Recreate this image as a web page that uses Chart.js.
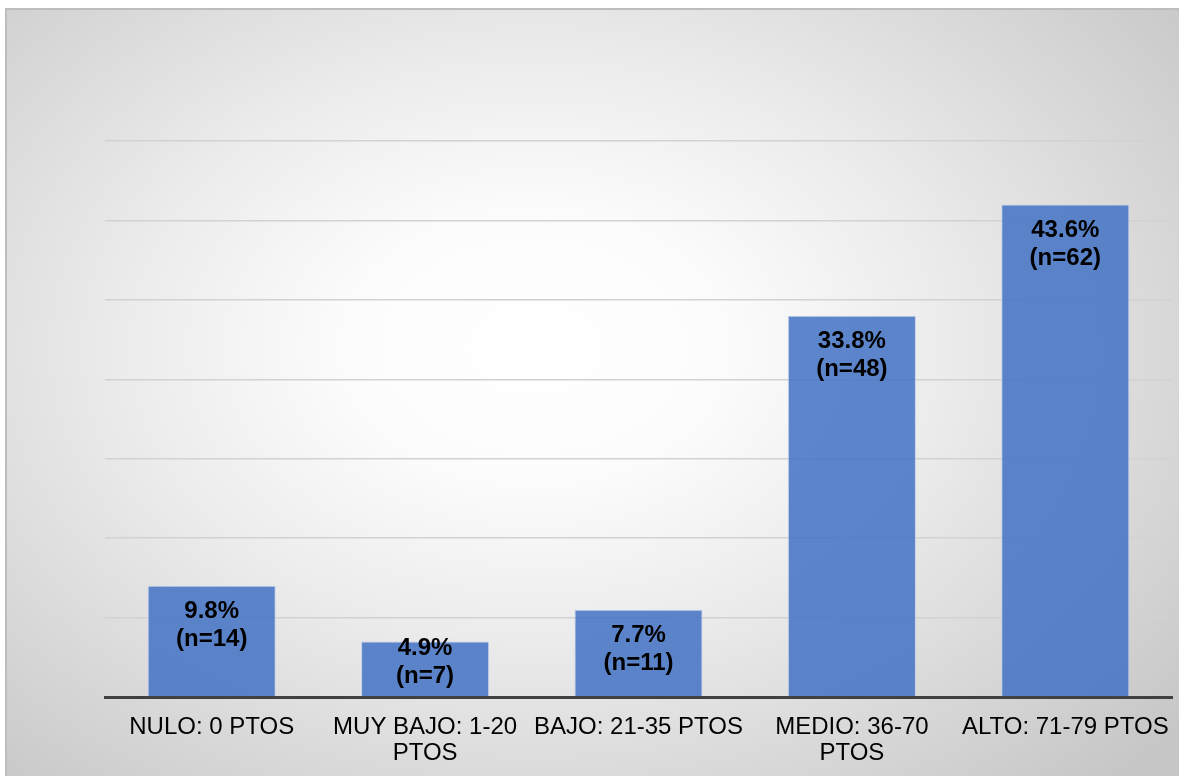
<!DOCTYPE html>
<html>
<head>
<meta charset="utf-8">
<script src="https://cdn.jsdelivr.net/npm/chart.js@4.4.0/dist/chart.umd.min.js"></script>
<style>
  html, body { margin: 0; padding: 0; background: #fff; }
  #wrap { position: relative; width: 1179px; height: 776px; overflow: hidden; }
  #bg {
    position: absolute; left: 5px; top: 8px; right: 0; bottom: 0;
    border-left: 2px solid #bdbdbd; border-top: 2px solid #bdbdbd;
    background: radial-gradient(ellipse 72% 78% at 45% 44%, #ffffff 0%, #fcfcfc 22%, #ececec 48%, #d6d6d6 78%, #c6c6c6 100%);
  }
  #c { position: absolute; left: 0; top: 0; }
</style>
</head>
<body>
<div id="wrap">
  <div id="bg"></div>
  <canvas id="c" width="1179" height="776"></canvas>
</div>
<script>
// categories (x axis, wrapped like the original)
const categories = [
  ['NULO: 0 PTOS'],
  ['MUY BAJO: 1-20', 'PTOS'],
  ['BAJO: 21-35 PTOS'],
  ['MEDIO: 36-70', 'PTOS'],
  ['ALTO: 71-79 PTOS']
];
// counts per level
const counts = [14, 7, 11, 48, 62];
// percent shown in labels
const percents = ['9.8%', '4.9%', '7.7%', '33.8%', '43.6%'];

// bar labels: percent + n inside the top of each bar
const barLabels = {
  id: 'barLabels',
  afterDatasetsDraw(chart) {
    const ctx = chart.ctx;
    const base = chart.scales.y.getPixelForValue(0);
    const meta = chart.getDatasetMeta(0);
    ctx.save();
    ctx.font = 'bold 24px "Liberation Sans", Arial, sans-serif';
    ctx.fillStyle = '#000';
    ctx.textAlign = 'center';
    ctx.textBaseline = 'middle';
    meta.data.forEach((bar, i) => {
      let y1 = Math.min(bar.y + 26, base - 49);
      ctx.fillText(percents[i], bar.x, y1);
      ctx.fillText('(n=' + counts[i] + ')', bar.x, y1 + 28);
    });
    ctx.restore();
  }
};

const ctx = document.getElementById('c');
new Chart(ctx, {
  type: 'bar',
  data: {
    labels: categories,
    datasets: [{
      data: counts,
      backgroundColor: 'rgba(68,114,196,0.86)',
      borderColor: 'rgba(190,205,235,0.9)',
      borderWidth: 1,
      barPercentage: 0.6,
      categoryPercentage: 1
    }]
  },
  options: {
    responsive: false,
    animation: false,
    layout: { padding: { left: 105, right: 7, top: 141, bottom: 0 } },
    plugins: { legend: { display: false }, tooltip: { enabled: false } },
    scales: {
      x: {
        grid: { display: false, drawTicks: false },
        border: { display: true, color: '#404040', width: 3 },
        ticks: {
          color: '#000',
          padding: 17,
          maxRotation: 0,
          autoSkip: false,
          font: { family: '"Liberation Sans", Arial, sans-serif', size: 24, lineHeight: 1.08 }
        },
        afterFit(scale) {
          scale.height = 79;
          scale.paddingLeft = 0;
          scale.paddingRight = 0;
        }
      },
      y: {
        min: 0,
        max: 70,
        ticks: { display: false, stepSize: 10 },
        grid: { color: '#d2d2d2', lineWidth: 1.5, drawTicks: false },
        border: { display: false }
      }
    }
  },
  plugins: [barLabels]
});
</script>
</body>
</html>
